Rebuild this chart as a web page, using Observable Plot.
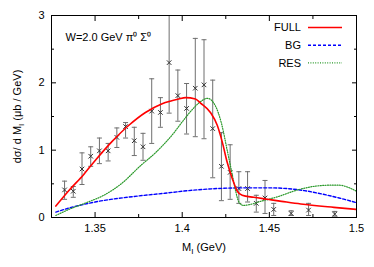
<!DOCTYPE html>
<html><head><meta charset="utf-8">
<script src="https://cdn.jsdelivr.net/npm/d3@7"></script>
<script src="https://cdn.jsdelivr.net/npm/@observablehq/plot@0.6"></script>
<style>
body{margin:0;background:#fff;}
#chart{position:relative;width:374px;height:267px;}
svg{font-family:"Liberation Sans",Arial,sans-serif;}
</style>
</head><body><div id="chart"></div>
<script>
// Measured data points (M_I in GeV, dσ/dM_I in μb/GeV)
const ptX  = [1.3325,1.3375,1.3425,1.3475,1.3525,1.3575,1.3625,1.3675,1.3725,1.3775,1.3825,1.3875,1.3925,1.3975,1.4025,1.4075,1.4125,1.4175,1.4225,1.4275,1.4325,1.4375,1.4425,1.4475,1.4525,1.4625,1.4725,1.4875];
const ptY  = [0.41,0.39,0.72,0.91,0.99,0.99,1.19,1.35,1.14,1.05,1.58,1.56,2.30,1.81,1.62,1.92,1.97,1.32,0.76,0.67,0.43,0.43,0.21,0.29,0.12,0.06,0.11,0.05];
const ptLo = [0.27,0.30,0.49,0.76,0.80,0.84,1.04,1.18,0.92,0.85,1.10,1.34,1.55,1.43,1.24,1.20,1.17,0.59,0.25,0.27,0.21,0.23,0.08,0.06,0.03,0.03,0.03,0.02];
const ptHi = [0.54,0.46,0.96,1.05,1.18,1.10,1.33,1.41,1.34,1.25,2.06,1.78,3.05,2.19,1.99,2.66,2.64,2.04,1.26,1.08,0.68,0.68,0.33,0.55,0.21,0.10,0.21,0.09];

// FULL curve
const fullX = [1.3275,1.335,1.3435,1.3502,1.3598,1.3694,1.3789,1.3885,1.398,1.4019,1.4076,1.4105,1.4162,1.4201,1.423,1.4258,1.4287,1.4316,1.4344,1.441,1.449,1.457,1.468,1.487,1.5];
const fullY = [0.17,0.40,0.64,0.85,1.13,1.37,1.56,1.69,1.76,1.78,1.76,1.70,1.56,1.37,1.12,0.82,0.58,0.39,0.33,0.30,0.27,0.24,0.20,0.15,0.12];
// BG curve
const bgX = [1.3275,1.335,1.35,1.375,1.39,1.40,1.42,1.435,1.45,1.46,1.47,1.48,1.49,1.5];
const bgY = [0.08,0.14,0.23,0.32,0.36,0.39,0.43,0.44,0.44,0.43,0.40,0.35,0.29,0.22];
// RES curve
const resX = [1.3275,1.335,1.345,1.355,1.365,1.3761,1.385,1.395,1.40,1.405,1.41,1.4145,1.419,1.4225,1.4258,1.4287,1.4306,1.4325,1.435,1.44,1.445,1.455,1.465,1.475,1.485,1.49,1.495,1.5];
const resY = [0.03,0.12,0.22,0.33,0.50,0.77,0.97,1.25,1.42,1.58,1.71,1.77,1.66,1.40,1.00,0.64,0.40,0.23,0.18,0.20,0.24,0.31,0.40,0.46,0.48,0.48,0.45,0.39];

const xTicks = [1.35,1.4,1.45,1.5];
const xMinor = [1.375,1.425,1.475];
const yTicks = [0,1,2,3];
const yMinor = [0.5,1.5,2.5];
const titleText = "W=2.0 GeV π⁰ Σ⁰";
const yLabel = "dσ/ d M_I (μb / GeV)";
const xLabel = "M_I (GeV)";
const legendNames = ["FULL","BG","RES"];

const points = ptX.map((x,i)=>({x, y:ptY[i], lo:ptLo[i], hi:ptHi[i]}));
const full = fullX.map((x,i)=>({x, y:fullY[i]}));
const bg = bgX.map((x,i)=>({x, y:bgY[i]}));
const res = resX.map((x,i)=>({x, y:resY[i]}));

const capSymbol = {draw(ctx, size){ const w = Math.sqrt(size/Math.PI); ctx.moveTo(-w,0); ctx.lineTo(w,0); }};

const styles = {
  FULL: {stroke:"#ff0000", strokeWidth:1.6, dash:null},
  BG:   {stroke:"#0000ff", strokeWidth:1.4, dash:"3,2"},
  RES:  {stroke:"#2a992a", strokeWidth:1.2, dash:"1,1.4"}
};

const W = 374, H = 267, mL = 51, mR = 18, mT = 15, mB = 50;

const plot = Plot.plot({
  width: W, height: H,
  marginLeft: mL, marginRight: mR, marginTop: mT, marginBottom: mB,
  style: {fontFamily: "'Liberation Sans', Arial, sans-serif", fontSize: "11px", background: "#fff", color: "#000"},
  x: {domain: [1.325, 1.5]},
  y: {domain: [0, 3]},
  marks: [
    Plot.axisX(xTicks, {tickSize: 0, tickPadding: 7, tickFormat: d => String(d), fontSize: 11, label: xLabel, labelAnchor: "center", labelOffset: 33, labelArrow: "none"}),
    Plot.axisY(yTicks, {tickSize: 0, tickPadding: 7, tickFormat: d => String(d), fontSize: 11, label: yLabel, labelAnchor: "center", labelOffset: 38, labelArrow: "none"}),
    Plot.axisX(xTicks, {anchor: "bottom", tickSize: -5, text: null, label: null}),
    Plot.axisX(xTicks, {anchor: "top", tickSize: -5, text: null, label: null}),
    Plot.axisX(xMinor, {anchor: "bottom", tickSize: -3, text: null, label: null}),
    Plot.axisX(xMinor, {anchor: "top", tickSize: -3, text: null, label: null}),
    Plot.axisY(yTicks, {anchor: "left", tickSize: -5, text: null, label: null}),
    Plot.axisY(yTicks, {anchor: "right", tickSize: -5, text: null, label: null}),
    Plot.axisY(yMinor, {anchor: "left", tickSize: -3, text: null, label: null}),
    Plot.axisY(yMinor, {anchor: "right", tickSize: -3, text: null, label: null}),
    Plot.ruleX(points, {x: "x", y1: "lo", y2: "hi", stroke: "#6f6f6f", strokeWidth: 1, clip: true}),
    Plot.dot(points, {x: "x", y: "lo", symbol: capSymbol, r: 2.5, stroke: "#6f6f6f", strokeWidth: 1, fill: "none", clip: true}),
    Plot.dot(points, {x: "x", y: "hi", symbol: capSymbol, r: 2.5, stroke: "#6f6f6f", strokeWidth: 1, fill: "none", clip: true}),
    Plot.dot(points, {x: "x", y: "y", symbol: "times", r: 2.2, stroke: "#333", strokeWidth: 1, clip: true}),
    Plot.line(bg, {x: "x", y: "y", stroke: styles.BG.stroke, strokeWidth: styles.BG.strokeWidth, strokeDasharray: styles.BG.dash, curve: "monotone-x", clip: true}),
    Plot.line(res, {x: "x", y: "y", stroke: styles.RES.stroke, strokeWidth: styles.RES.strokeWidth, strokeDasharray: styles.RES.dash, curve: "monotone-x", clip: true}),
    Plot.line(full, {x: "x", y: "y", stroke: styles.FULL.stroke, strokeWidth: styles.FULL.strokeWidth, curve: "monotone-x", clip: true}),
    Plot.text([titleText], {frameAnchor: "top-left", dx: 14, dy: 18, textAnchor: "start", fontSize: 11, fill: "#000"}),
    Plot.frame({stroke: "#000", strokeWidth: 1})
  ]
});

document.getElementById("chart").appendChild(plot);

function subscriptify(label){
  plot.querySelectorAll("text").forEach(t => {
    if (t.textContent === label) {
      const [pre, post] = label.split("_I");
      t.textContent = "";
      const ns = "http://www.w3.org/2000/svg";
      const a = document.createElementNS(ns, "tspan"); a.textContent = pre;
      const b = document.createElementNS(ns, "tspan"); b.textContent = "I"; b.setAttribute("dy", "3"); b.setAttribute("font-size", "8");
      const c = document.createElementNS(ns, "tspan"); c.textContent = post; c.setAttribute("dy", "-3");
      t.append(a, b, c);
    }
  });
}
subscriptify(yLabel);
subscriptify(xLabel);

const svg = d3.select(plot);
const lg = svg.append("g").attr("font-size", 11).attr("font-family", "'Liberation Sans', Arial, sans-serif");
legendNames.forEach((name, i) => {
  const y = mT + 12.5 + i * 17.7;
  const s = styles[name];
  lg.append("text").attr("x", W - mR - 55).attr("y", y).attr("dy", "0.35em").attr("text-anchor", "end").attr("fill", "#000").text(name);
  lg.append("line").attr("x1", W - mR - 48).attr("x2", W - mR - 14).attr("y1", y).attr("y2", y)
    .attr("stroke", s.stroke).attr("stroke-width", s.strokeWidth).attr("stroke-dasharray", s.dash);
});
</script>
</body></html>
